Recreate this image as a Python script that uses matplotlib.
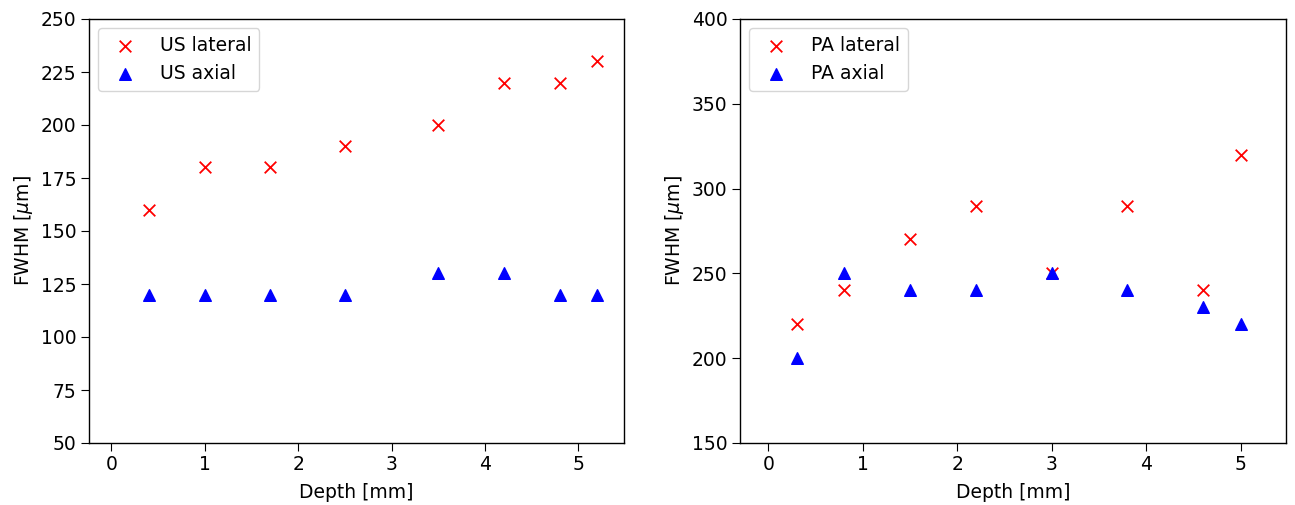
import matplotlib
matplotlib.use("Agg")
import matplotlib.pyplot as plt

us_depth = [0.4, 1.0, 1.7, 2.5, 3.5, 4.2, 4.8, 5.2]
us_lateral = [160, 180, 180, 190, 200, 220, 220, 230]
us_axial = [120, 120, 120, 120, 130, 130, 120, 120]

pa_depth = [0.3, 0.8, 1.5, 2.2, 3.0, 3.8, 4.6, 5.0]
pa_lateral = [220, 240, 270, 290, 250, 290, 240, 320]
pa_axial = [200, 250, 240, 240, 250, 240, 230, 220]

plt.rcParams['font.size'] = 13.5
plt.rcParams['xtick.major.size'] = 5.5
plt.rcParams['ytick.major.size'] = 5.5
plt.rcParams['axes.linewidth'] = 1.0
plt.rcParams['legend.handletextpad'] = 0.9

fig = plt.figure(figsize=(12.95, 5.05), dpi=100)
ax1 = fig.add_axes([89/1295, 1-443/505, (624-89)/1295, (443-19)/505])
ax2 = fig.add_axes([740/1295, 1-443/505, (1286-740)/1295, (443-19)/505])

ax1.scatter(us_depth, us_lateral, marker='x', color='red', s=70, linewidths=1.3, label='US lateral')
ax1.scatter(us_depth, us_axial, marker='^', color='blue', s=70, label='US axial')
ax1.set_xlim(-0.24, 5.49)
ax1.set_ylim(50, 250)
ax1.set_xlabel('Depth [mm]', labelpad=6)
ax1.set_ylabel(r'FWHM [$\mu$m]')
ax1.legend(loc='upper left')

ax2.scatter(pa_depth, pa_lateral, marker='x', color='red', s=70, linewidths=1.3, label='PA lateral')
ax2.scatter(pa_depth, pa_axial, marker='^', color='blue', s=70, label='PA axial')
ax2.set_xlim(-0.30, 5.48)
ax2.set_ylim(150, 400)
ax2.set_xlabel('Depth [mm]', labelpad=6)
ax2.set_ylabel(r'FWHM [$\mu$m]')
ax2.legend(loc='upper left')

fig.savefig('out.png', dpi=100)
